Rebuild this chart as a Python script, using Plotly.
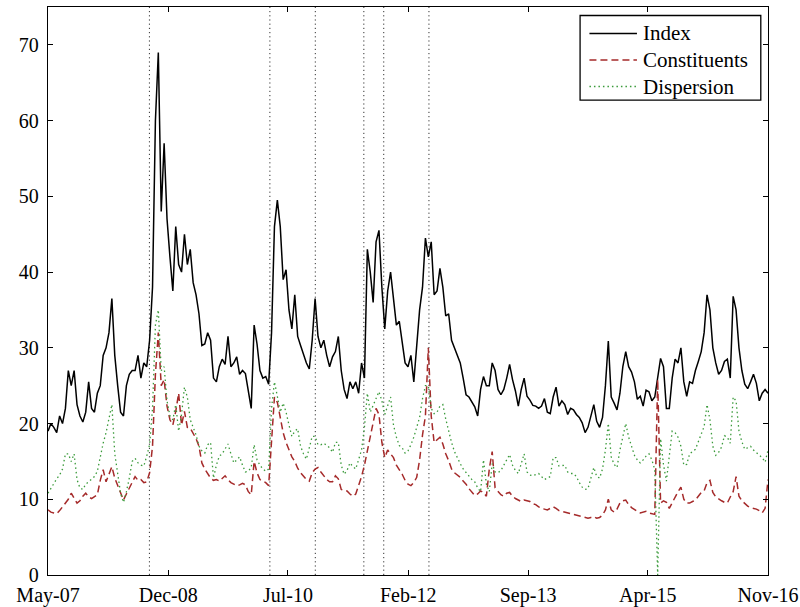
import pandas as pd
import plotly.graph_objects as go

# Fortnightly observations, May 2007 - Nov 2016
start_date = "2007-05-01"
step = "14D"

index_vol = [
    19, 20, 19.5, 18.8, 21, 20, 22, 27, 25, 27,
    22.5, 21, 20.2, 21.5, 25.5, 22, 21.5, 24, 25, 29,
    30, 32, 36.5, 29, 25, 21.5, 21, 25, 26.5, 27,
    27, 29, 26, 28, 27.5, 31, 38, 60, 69, 48,
    57, 47, 42, 37.5, 46, 41, 40, 45, 41, 43,
    38.6, 37, 34.5, 30.3, 30.5, 32, 31, 26, 25.5, 27.5,
    28.5, 27.8, 31.5, 27.5, 28, 28.8, 26.5, 27, 26.6, 24,
    22, 33, 30.5, 27, 26, 26.2, 25.2, 32, 46, 49.5,
    46, 39, 40.3, 35, 32.5, 37, 31.5, 30.3, 29, 28,
    27.2, 31, 36.5, 31.5, 30, 31, 29, 27.5, 28.8, 29.5,
    31.5, 27, 24.5, 23.3, 25.5, 24.6, 25.5, 24, 28, 26,
    43, 40, 36, 44, 45.5, 38, 32.5, 37.5, 40, 36.5,
    33, 33.5, 30.5, 28, 27.5, 29, 25.5, 30.2, 35, 38,
    44.5, 42, 44, 37, 37.5, 40.5, 38, 34.2, 34.5, 31,
    30, 28.8, 28, 26, 23.8, 23.5, 22.8, 22.2, 21, 24.5,
    26.2, 25, 25, 28, 27, 24.5, 23.8, 24.5, 26, 27.8,
    25.8, 24.3, 22.3, 24.5, 26, 23.6, 23.1, 22.4, 22.3, 22,
    22.3, 23.3, 21.5, 21.3, 23.5, 24.8, 22.3, 23, 22.5, 21.2,
    22, 21.8, 21.2, 20.8, 20.1, 18.8, 19.5, 21, 22.5, 20.3,
    19.5, 20.8, 25, 30.9, 23.5, 22.7, 21.8, 24, 27.5, 29.5,
    27.5, 26.8, 25.5, 23.2, 23.6, 22.3, 24.4, 24.2, 23, 23.5,
    26, 28.6, 27.5, 22, 22, 26, 28.5, 28, 30, 25.5,
    23.6, 25.5, 25.3, 27, 28.2, 29.5, 32, 37, 35, 30,
    28, 26.5, 27, 28.2, 28.5, 26, 36.8, 35, 30, 27,
    25.2, 24.6, 25.5, 26.5, 25.3, 23, 24, 24.5, 24,
]

constituents_vol = [
    8.6, 8.3, 8.2, 8.1, 8.5, 9.0, 9.5, 10.0, 10.8, 10.2,
    9.5, 9.8, 10.4, 10.8, 10.3, 10.1, 10.3, 10.6, 12.5, 13.9,
    12.3, 13.2, 14.3, 12.8, 11.8, 10.8, 9.9, 10.7, 11.5, 12.2,
    13, 12.5, 12.6, 12.2, 12.3, 13.5, 17, 26.5, 32, 25,
    25.8, 22.3, 20.5, 19.8, 21.6, 24, 19.8, 21.6, 19.5, 19.4,
    18.7, 18, 17, 14.8, 14, 13.3, 12.8, 12.5, 12.6, 12.4,
    12.7, 13.1, 12.6, 12.2, 12, 11.8, 11.9, 12.1, 11.9, 11,
    10.6, 15, 13.5, 12.6, 12.4, 12.2, 11.8, 17.5, 23.5, 22.8,
    20.6, 18.8, 17.5, 16.4, 15.6, 15, 14.1, 13.5, 13, 12.6,
    12.4, 13.5, 14, 14.2, 13.6, 13.1, 12.6, 12.3, 12.3, 13.1,
    12.7, 11.3, 11.2, 11.1, 10.7, 10.4, 10.7, 11.8, 13, 14.5,
    16.5, 18.3, 20, 22, 21.2, 17.5, 15.5, 16.5, 16, 15.5,
    14.5, 13.9, 13.3, 12.5, 12, 11.8, 12.2, 12.9, 15.2, 18.5,
    21, 30, 21, 17.5, 17.8, 18.2, 17.3, 16, 15.1, 14,
    13.5, 13.2, 12.9, 12.4, 12, 11.4, 11, 10.5, 10.7, 11.1,
    10.9, 10.4, 14, 16.3, 11.5, 11, 10.6, 10.4, 10.8, 10.9,
    10.4, 10.1, 9.9, 9.7, 9.9, 9.8, 9.7, 9.4, 9.3, 9.0,
    8.8, 8.7, 8.6, 8.8, 9.0, 8.8, 8.5, 8.4, 8.3, 8.2,
    8.1, 8.0, 7.9, 7.8, 7.7, 7.6, 7.5, 7.6, 7.7, 7.5,
    7.6, 7.9, 8.6, 10, 8.6, 8.3, 8.7, 9.5, 9.8, 9.9,
    9.3, 8.9, 8.6, 8.4, 8.2, 8.3, 8.4, 8.2, 8.1, 8.0,
    25.8, 9.5, 9.8, 9.6, 8.8, 9.6, 10.4, 11, 11.6, 10,
    9.5, 9.5, 9.7, 9.9, 10.4, 10.9, 11.1, 12.2, 12.5, 10.9,
    10.3, 10, 9.8, 9.6, 9.5, 10.3, 11, 13, 10.4, 9.8,
    9.4, 9.1, 8.9, 8.8, 8.7, 8.5, 8.2, 8.8, 12.6,
]

dispersion = [
    10.8, 11.5, 12.1, 12.7, 13.2, 14, 16, 16, 15, 16,
    12.6, 11.5, 11.3, 12, 12.3, 12.6, 13, 13.7, 15.7, 17.4,
    18.8, 20.6, 22.5, 16, 13.5, 10.8, 9.6, 11, 12.8, 15,
    15.4, 14.8, 14.5, 14.4, 15.7, 17.2, 22, 33, 35, 27,
    27.5, 23, 21, 20.5, 22.5, 19, 21.2, 24.8, 23.5, 20.5,
    19.5, 18.5, 17, 16.4, 16.1, 17.2, 17.5, 12.8, 14.5, 15.7,
    16, 16.6, 17.3, 16, 14.8, 15.2, 15.6, 14.5, 13.6, 13.7,
    14.2, 17.2, 15.2, 14.5, 14, 13.7, 14, 22, 25.5, 23.6,
    21.5, 22.7, 21.5, 19.8, 18.3, 19, 19.3, 17, 16, 15.3,
    16.8, 18.3, 18.3, 17.2, 17.2, 17.4, 17.1, 16.8, 16.2, 17.5,
    17.5, 14.5, 13.3, 13.8, 14.8, 14.3, 14, 15.4, 16.5, 19.5,
    24, 21.5, 22.3, 23.3, 24.2, 23, 21.2, 22.5, 23.5, 19.8,
    18.2, 17.1, 16.8, 16.1, 16.4, 17.2, 18.2, 19.5, 20.8, 23.3,
    25, 25, 22, 21.3, 21.5, 22.3, 22.5, 20.6, 19, 17.5,
    16.3, 15.4, 14.7, 14, 13.5, 13, 12.6, 12.3, 11.5, 11,
    15.2, 12, 11, 14.7, 13.6, 13.5, 13.8, 14.5, 15.2, 15.9,
    14.5, 13.8, 13.4, 14.8, 16, 13.6, 13.2, 13.1, 13.2, 13.4,
    13, 12.6, 12.8, 13, 15.5, 15.5, 14.4, 14.5, 14.5, 13.6,
    13.4, 13.4, 13, 12.2, 11.6, 11.3, 11.4, 12.8, 14.2, 13,
    12.8, 14, 16.5, 20, 15.6, 14.6, 14.2, 16.5, 18.5, 20,
    18.2, 17, 15.8, 15.2, 14.8, 15.2, 15.7, 16, 15.2, 13.9,
    0, 18, 14.6, 12.4, 15.5, 19, 18.8, 18.2, 17, 14.5,
    14.6, 16, 16.3, 16.6, 17.6, 18.7, 19.6, 22.5, 20.5, 17,
    15.8, 16.2, 16.9, 18.4, 18.2, 17.4, 23.5, 23, 19, 17.6,
    16.6, 16.8, 17, 16.5, 16.2, 15.8, 15.5, 14.9, 16.5,
]

# Market stress events marked with vertical dotted lines
event_dates = ["2008-09-01", "2010-04-05", "2010-11-10",
               "2011-07-02", "2011-10-06", "2012-05-11"]

tick_dates = ["2007-05-01", "2008-12-01", "2010-07-01", "2012-02-01",
              "2013-09-01", "2015-04-01", "2016-11-01"]
tick_labels = ["May-07", "Dec-08", "Jul-10", "Feb-12", "Sep-13", "Apr-15", "Nov-16"]

dates = pd.date_range(start_date, periods=len(index_vol), freq=step)

FONT = "Liberation Serif"

series = [
    ("Index", index_vol, dict(color="black", width=1.5)),
    ("Constituents", constituents_vol, dict(color="#a52a2a", width=1.5, dash="7px,4px")),
    ("Dispersion", dispersion, dict(color="#3a9a3a", width=1.3, dash="1.5px,3px")),
]

fig = go.Figure()
for name, values, style in series:
    fig.add_trace(go.Scatter(x=dates, y=values, mode="lines", name=name,
                             line=style, showlegend=False))

for d in event_dates:
    fig.add_shape(
        type="line", xref="x", yref="paper", x0=d, x1=d, y0=0, y1=1,
        line=dict(color="#333333", width=1, dash="1.2px,3px"),
        layer="below",
    )

# Boxed legend in the upper-right corner (paper coordinates)
box_x0, box_x1, box_y0, box_y1 = 0.739, 0.990, 0.836, 0.985
sample_x0, sample_x1, text_x = 0.752, 0.818, 0.824
row_y = [0.9535, 0.9065, 0.860]
fig.add_shape(type="rect", xref="paper", yref="paper",
              x0=box_x0, x1=box_x1, y0=box_y0, y1=box_y1,
              line=dict(color="black", width=1.3), fillcolor="white")
for (name, _, style), ry in zip(series, row_y):
    fig.add_shape(type="line", xref="paper", yref="paper",
                  x0=sample_x0, x1=sample_x1, y0=ry, y1=ry, line=style)
    fig.add_annotation(xref="paper", yref="paper", x=text_x, y=ry,
                       xanchor="left", yanchor="middle", showarrow=False,
                       text=name, font=dict(family=FONT, size=21, color="black"))

fig.update_layout(
    width=800, height=607,
    margin=dict(l=48, r=32, t=7, b=32),
    paper_bgcolor="white", plot_bgcolor="white",
    font=dict(family=FONT, size=20, color="black"),
    showlegend=False,
)
fig.update_xaxes(
    type="date", range=[tick_dates[0], tick_dates[-1]], automargin=False,
    tickmode="array", tickvals=tick_dates, ticktext=tick_labels,
    ticks="inside", ticklen=5, tickwidth=1, tickcolor="black",
    showline=True, linecolor="black", linewidth=1.3, mirror="ticks",
    showgrid=False, zeroline=False, ticklabelstandoff=2,
    ticklabeloverflow="allow",
    tickfont=dict(family=FONT, size=20, color="black"),
)
fig.update_yaxes(
    range=[0, 75], automargin=False,
    tickmode="array", tickvals=list(range(0, 80, 10)),
    ticks="inside", ticklen=5, tickwidth=1, tickcolor="black",
    showline=True, linecolor="black", linewidth=1.3, mirror="ticks",
    showgrid=False, zeroline=False, ticklabelstandoff=4,
    tickfont=dict(family=FONT, size=20, color="black"),
)

fig.write_html("out.html")
